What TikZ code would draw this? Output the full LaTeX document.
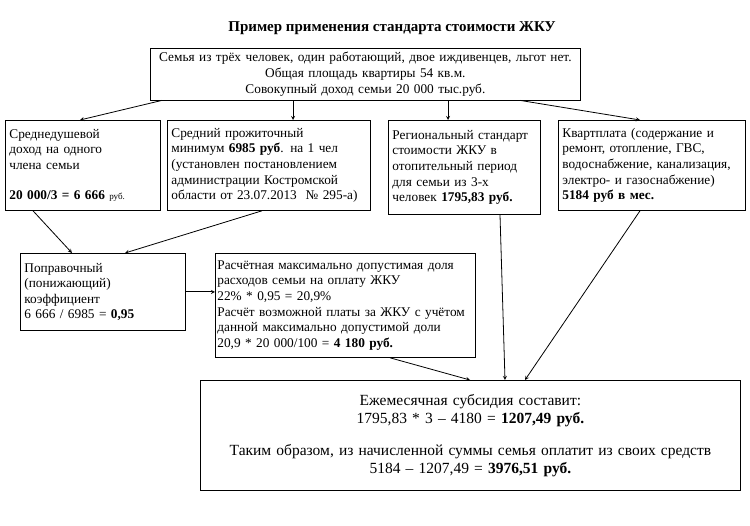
\documentclass[tikz,border=0pt]{standalone}
\usepackage{fontspec}
\setmainfont{Liberation Serif}
\begin{document}
\begin{tikzpicture}[x=1pt,y=-1pt,
 bx/.style={draw,thick,anchor=north west,align=left,inner sep=4pt,font=\fontsize{13.3}{15.6}\selectfont},
 ar/.style={-stealth,thick}]
\useasboundingbox (0,0) rectangle (750,526);
\node[font=\bfseries\fontsize{15}{17}\selectfont] (title) at (392,28) {Пример применения стандарта стоимости ЖКУ};
\node[bx,align=center,minimum width=430,minimum height=50,text width=422] (top) at (150,48) {Семья из трёх человек, один работающий, двое иждивенцев, льгот нет.\\Общая площадь квартиры 54 кв.м.\\Совокупный доход семьи 20 000 тыс.руб.};
\node[bx,text width=147,minimum height=90] (b1) at (5,120) {Среднедушевой\\доход на одного\\члена семьи\\[15pt]\textbf{20 000/3 = 6 666} {\small руб.}};
\node[bx,text width=195,minimum height=90] (b2) at (167,120) {Средний прожиточный\\минимум \textbf{6985 руб}. на 1 чел\\(установлен постановлением\\администрации Костромской\\области от 23.07.2013~~№ 295-а)};
\node[bx,text width=144,minimum height=94] (b3) at (388,120) {Региональный стандарт\\стоимости ЖКУ в\\отопительный период\\для семьи из 3-х\\человек \textbf{1795,83 руб.}};
\node[bx,text width=179,minimum height=90] (b4) at (558,120) {Квартплата (содержание и\\ремонт, отопление, ГВС,\\водоснабжение, канализация,\\электро- и газоснабжение)\\\textbf{5184 руб в мес.}};
\node[bx,text width=157,minimum height=77] (b5) at (20,253) {Поправочный\\(понижающий)\\коэффициент\\6 666 / 6985 = \textbf{0,95}};
\node[bx,inner xsep=2pt,text width=256,minimum height=104] (b6) at (215,253) {Расчётная максимально допустимая доля\\расходов семьи на оплату ЖКУ\\22\% * 0,95 = 20,9\%\\Расчёт возможной платы за ЖКУ с учётом\\данной максимально допустимой доли\\20,9 * 20 000/100 = \textbf{4 180 руб.}};
\node[bx,align=center,text width=532,minimum height=110,font=\fontsize{15.5}{17.5}\selectfont] (b7) at (200,380) {Ежемесячная субсидия составит:\\1795,83 * 3 -- 4180 = \textbf{1207,49 руб.}\\[15pt]Таким образом, из начисленной суммы семья оплатит из своих средств\\5184 -- 1207,49 = \textbf{3976,51 руб.}};
\draw[ar] (top.south west) ++(12,0) -- ([xshift=75]b1.north west);
\draw[ar] (top.south west) ++(143,0) -- ([xshift=126]b2.north west);
\draw[ar] (top.south west) ++(298,0) -- ([xshift=60]b3.north west);
\draw[ar] (top.south west) ++(370,0) -- ([xshift=82]b4.north west);
\draw[ar] ([xshift=28]b1.south west) -- ([xshift=52]b5.north west);
\draw[ar] ([xshift=95]b2.south west) -- ([xshift=105]b5.north west);
\draw[ar] (b5.east) -- (b6.west|-b5.east);
\draw[ar] ([xshift=175]b6.south west) -- ([xshift=270]b7.north west);
\draw[ar] ([xshift=112]b3.south west) -- ([xshift=305]b7.north west);
\draw[ar] ([xshift=82]b4.south west) -- ([xshift=325]b7.north west);
\end{tikzpicture}
\end{document}
